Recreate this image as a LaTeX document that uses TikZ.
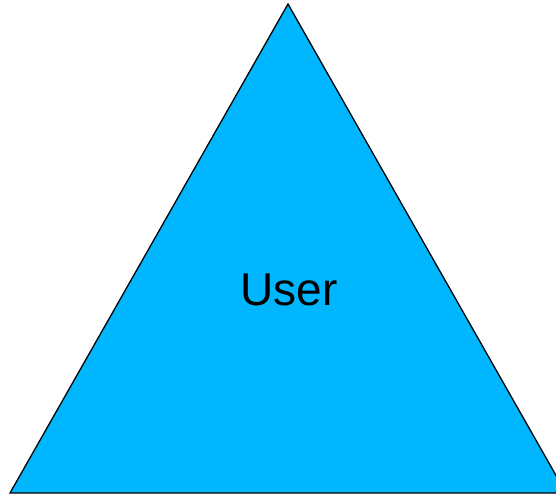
\documentclass[tikz,border=0pt]{standalone}
\usepackage{fontspec}
\setmainfont{Liberation Sans}
\definecolor{userblue}{RGB}{0,183,255}
\tikzset{tri/.style={fill=userblue,draw=black,line width=1.3pt,line join=miter}}
\begin{document}
\begin{tikzpicture}[x=1pt,y=1pt]
\useasboundingbox (0,0) rectangle (556,498);
\clip (0,0) rectangle (556,498);
\coordinate (apex) at (288,494);
\coordinate (bl) at (10,5);
\coordinate (br) at (566,5);
\draw[tri] (apex) -- (bl) -- (br) -- cycle;
\node (user) at (289,208) {\fontsize{46}{50}\selectfont User};
\end{tikzpicture}
\end{document}
